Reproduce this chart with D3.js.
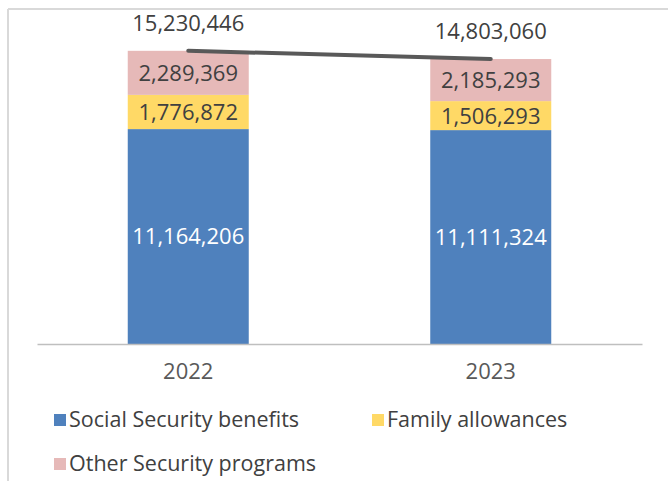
<!DOCTYPE html>
<html>
<head>
<meta charset="utf-8">
<script src="https://cdn.jsdelivr.net/npm/d3@7"></script>
<style>
  body { margin: 0; background: #fff; }
  svg text { font-family: "Open Sans", sans-serif; }
</style>
</head>
<body>
<div id="chart"></div>
<script>
// data
var years = ["2022", "2023"];
var socialSecurity = [11164206, 11111324];
var familyAllowances = [1776872, 1506293];
var otherPrograms = [2289369, 2185293];
var totals = [15230446, 14803060];
var seriesNames = ["Social Security benefits", "Family allowances", "Other Security programs"];
var seriesColors = ["#4f81bd", "#ffd966", "#e6b9b8"];
var labelColors = ["#ffffff", "#404040", "#404040"];

var wid = 668, het = 481;
var svg = d3.select("#chart").append("svg")
    .attr("width", wid)
    .attr("height", het);

// frame
svg.append("line").attr("x1", 8).attr("x2", wid).attr("y1", 9).attr("y2", 9)
    .attr("stroke", "#d9d9d9").attr("stroke-width", 2);
svg.append("line").attr("x1", 8).attr("x2", 8).attr("y1", 9).attr("y2", het)
    .attr("stroke", "#d9d9d9").attr("stroke-width", 2);

let x = d3.scaleBand()
    .domain(years)
    .range([37, 642])
    .paddingInner(0.6)
    .paddingOuter(0.3);

let y = d3.scaleLinear()
    .domain([0, 16000000])
    .range([344, 36]);

// stack
var rows = years.map((yr, i) => ({
    year: yr,
    s0: socialSecurity[i],
    s1: familyAllowances[i],
    s2: otherPrograms[i]
}));
var stack = d3.stack().keys(["s0", "s1", "s2"]);
var layers = stack(rows);

var groups = svg.selectAll(".layer")
    .data(layers)
    .enter().append("g")
    .attr("class", "layer")
    .attr("fill", (d, i) => seriesColors[i]);

groups.selectAll("rect")
    .data(d => d)
    .enter().append("rect")
    .attr("x", d => x(d.data.year))
    .attr("width", x.bandwidth())
    .attr("y", d => y(d[1]))
    .attr("height", d => y(d[0]) - y(d[1]));

// segment labels
layers.forEach((layer, li) => {
    svg.selectAll(".lbl" + li)
        .data(layer)
        .enter().append("text")
        .attr("class", "lbl" + li)
        .attr("x", d => x(d.data.year) + x.bandwidth() / 2)
        .attr("y", d => (y(d[0]) + y(d[1])) / 2)
        .attr("dy", "0.36em")
        .attr("text-anchor", "middle")
        .attr("font-size", 22)
        .attr("fill", labelColors[li])
        .text(d => d3.format(",")(d[1] - d[0]));
});

// x axis
let xAxis = d3.axisBottom(x).tickSize(0).tickPadding(19);
let ax = svg.append("g")
    .attr("transform", "translate(0,344)")
    .call(xAxis);
ax.select(".domain").attr("stroke", "#bfbfbf").attr("stroke-width", 1.5);
ax.selectAll("text")
    .attr("font-size", 22)
    .attr("fill", "#595959")
    .style("font-family", "Open Sans, sans-serif");

// total line
var line = d3.line()
    .x((d, i) => x(years[i]) + x.bandwidth() / 2)
    .y(d => y(d));
svg.append("path")
    .datum(totals)
    .attr("d", line)
    .attr("fill", "none")
    .attr("stroke", "#595959")
    .attr("stroke-width", 4)
    .attr("stroke-linecap", "round");

svg.selectAll(".total")
    .data(totals)
    .enter().append("text")
    .attr("class", "total")
    .attr("x", (d, i) => x(years[i]) + x.bandwidth() / 2)
    .attr("y", d => y(d) - 20)
    .attr("text-anchor", "middle")
    .attr("font-size", 22)
    .attr("fill", "#404040")
    .text(d => d3.format(",")(d));

// legend
var legendPos = [[54, 420], [372, 420], [54, 464]];
var legend = svg.selectAll(".legend")
    .data(seriesNames)
    .enter().append("g")
    .attr("class", "legend")
    .attr("transform", (d, i) => `translate(${legendPos[i][0]},${legendPos[i][1]})`);
legend.append("rect")
    .attr("x", 0).attr("y", -6)
    .attr("width", 12).attr("height", 12)
    .attr("fill", (d, i) => seriesColors[i]);
legend.append("text")
    .attr("x", 15)
    .attr("y", 7)
    .attr("font-size", 21.5)
    .attr("fill", "#404040")
    .text(d => d);
</script>
</body>
</html>
